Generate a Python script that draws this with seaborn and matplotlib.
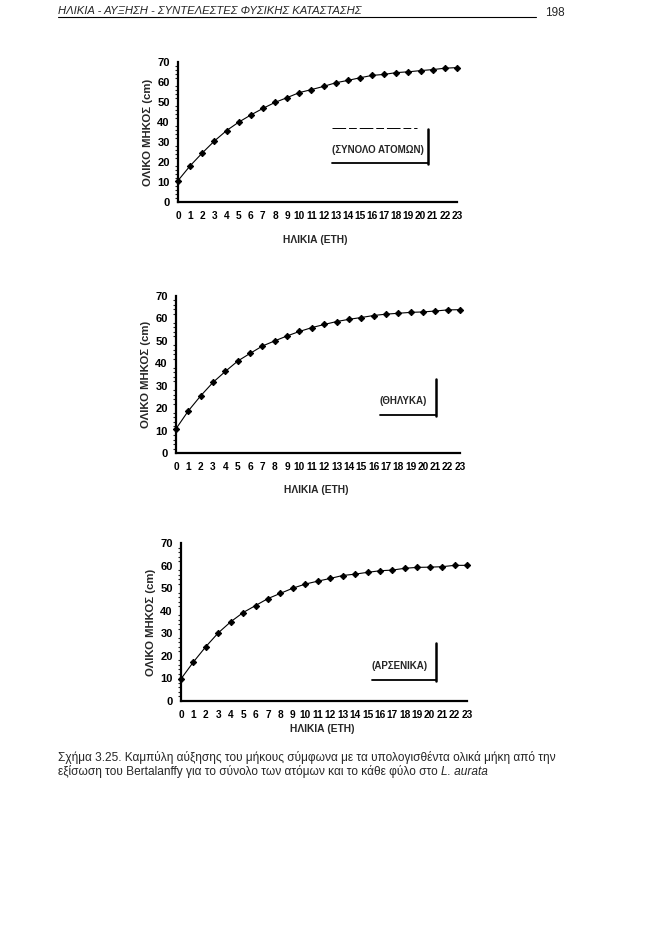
import matplotlib
matplotlib.use("Agg")
import matplotlib.pyplot as plt
import seaborn as sns
import pandas as pd
import numpy as np
from matplotlib.lines import Line2D
from matplotlib.ticker import MultipleLocator

sns.set_theme(style="white")
plt.rcParams['font.family'] = ['Liberation Sans', 'DejaVu Sans']

ages = list(range(24))
total_len = [10.7, 18.1, 24.5, 30.5, 35.7, 39.9, 43.5, 46.8, 49.8, 52.2, 54.7, 56.2,
             57.8, 59.6, 60.8, 62.1, 63.3, 63.8, 64.7, 65.1, 65.7, 66.2, 66.9, 67.2]
female_len = [10.8, 18.8, 25.5, 31.5, 36.4, 41.0, 44.4, 47.7, 50.0, 52.2, 54.2, 55.9,
              57.3, 58.6, 59.6, 60.4, 61.3, 61.9, 62.3, 62.7, 62.9, 63.3, 63.8, 63.9]
male_len = [9.8, 17.3, 24.1, 30.2, 35.1, 39.2, 42.3, 45.4, 47.7, 50.0, 51.8, 53.1,
            54.3, 55.6, 56.2, 57.0, 57.7, 58.0, 58.8, 59.2, 59.3, 59.5, 60.1, 60.1]
panel_labels = ["(ΣΥΝΟΛΟ ΑΤΟΜΩΝ)", "(ΘΗΛΥΚΑ)", "(ΑΡΣΕΝΙΚΑ)"]
ylabel = "ΟΛΙΚΟ ΜΗΚΟΣ (cm)"
xlabel = "ΗΛΙΚΙΑ (ΕΤΗ)"
header = "ΗΛΙΚΙΑ - ΑΥΞΗΣΗ - ΣΥΝΤΕΛΕΣΤΕΣ ΦΥΣΙΚΗΣ ΚΑΤΑΣΤΑΣΗΣ"
page_no = "198"
caption1 = "Σχήμα 3.25. Καμπύλη αύξησης του μήκους σύμφωνα με τα υπολογισθέντα ολικά μήκη από την"
caption2a = "εξίσωση του Bertalanffy για το σύνολο των ατόμων και το κάθε φύλο στο "
caption2b = "L. aurata"

W, H = 663, 936
fig = plt.figure(figsize=(W / 100, H / 100), dpi=100)
fig.patch.set_facecolor("white")

def fx(x):
    return x / W

def fy(y):
    return 1 - y / H

panels = [
    dict(l=178, r=457, t=62, b=202, xl=240, data=total_len,
         box=dict(tx=332, ty=150, vx=428, vy0=129, vy1=164, bx0=332, topline=(332, 417, 128))),
    dict(l=176, r=460, t=296, b=453, xl=490, data=female_len,
         box=dict(tx=380, ty=401, vx=436, vy0=379, vy1=416, bx0=380, topline=None)),
    dict(l=181, r=467, t=543, b=701, xl=729, data=male_len,
         box=dict(tx=371, ty=666, vx=436, vy0=643, vy1=681, bx0=372, topline=None)),
]

for i, p in enumerate(panels):
    ax = fig.add_axes([fx(p['l']), fy(p['b']), fx(p['r'] - p['l']), (p['b'] - p['t']) / H])
    df = pd.DataFrame({"age": ages, "length": p['data']})
    sns.lineplot(data=df, x="age", y="length", ax=ax, color="black", lw=0.8,
                 marker="D", markersize=3.2, markeredgecolor="black", clip_on=False)
    ax.set_xlim(0, 23)
    ax.set_ylim(0, 70)
    ax.set_xticks(ages)
    ax.set_xticklabels([str(a) for a in ages], fontsize=7.3, fontweight="bold")
    ax.set_yticks(range(0, 71, 10))
    ax.set_yticklabels([str(v) for v in range(0, 71, 10)], fontsize=8, fontweight="bold")
    ax.yaxis.set_minor_locator(MultipleLocator(2))
    for s in ["top", "right"]:
        ax.spines[s].set_visible(False)
    for s in ["left", "bottom"]:
        ax.spines[s].set_linewidth(1.6)
        ax.spines[s].set_color("black")
    ax.tick_params(axis="x", direction="inout", length=7, width=1.2, pad=3, colors="black")
    ax.tick_params(axis="y", which="major", direction="out", length=4, width=1.4, pad=2, colors="black")
    ax.tick_params(axis="y", which="minor", direction="out", length=2, width=0.8, left=True)
    ax.set_xlabel("")
    ax.set_ylabel(ylabel, fontsize=8.2, fontweight="bold", labelpad=3)
    ax.patch.set_alpha(0)
    fig.text(fx((p['l'] + p['r']) / 2 - 2), fy(p['xl']), xlabel, fontsize=7.4,
             fontweight="bold", ha="center", va="center")
    bx = p['box']
    fig.text(fx(bx['tx']), fy(bx['ty']), panel_labels[i], fontsize=7,
             ha="left", va="center", fontweight="bold")
    fig.add_artist(Line2D([fx(bx['vx']), fx(bx['vx'])], [fy(bx['vy0']), fy(bx['vy1'])],
                          color="black", lw=1.8))
    fig.add_artist(Line2D([fx(bx['bx0']), fx(bx['vx'])], [fy(bx['vy1'] - 1), fy(bx['vy1'] - 1)],
                          color="black", lw=1.3))
    if bx['topline'] is not None:
        x0, x1, yy = bx['topline']
        fig.add_artist(Line2D([fx(x0), fx(x1)], [fy(yy), fy(yy)], color="black", lw=0.7,
                              ls=(0, (14, 3, 8, 3))))

fig.text(fx(58), fy(11), header, fontsize=8.1, style="italic", ha="left", va="center")
fig.add_artist(Line2D([fx(58), fx(536)], [fy(17), fy(17)], color="black", lw=0.8))
fig.text(fx(545), fy(13), page_no, fontsize=8.5, ha="left", va="center")

fig.text(fx(58), fy(757), caption1, fontsize=8.55, ha="left", va="center")
t2 = fig.text(fx(58), fy(772), caption2a, fontsize=8.55, ha="left", va="center")
fig.canvas.draw()
bb = t2.get_window_extent()
fig.text(bb.x1 / W, fy(772), caption2b, fontsize=8.55, style="italic", ha="left", va="center")

fig.savefig("out.png", dpi=100, facecolor="white")
